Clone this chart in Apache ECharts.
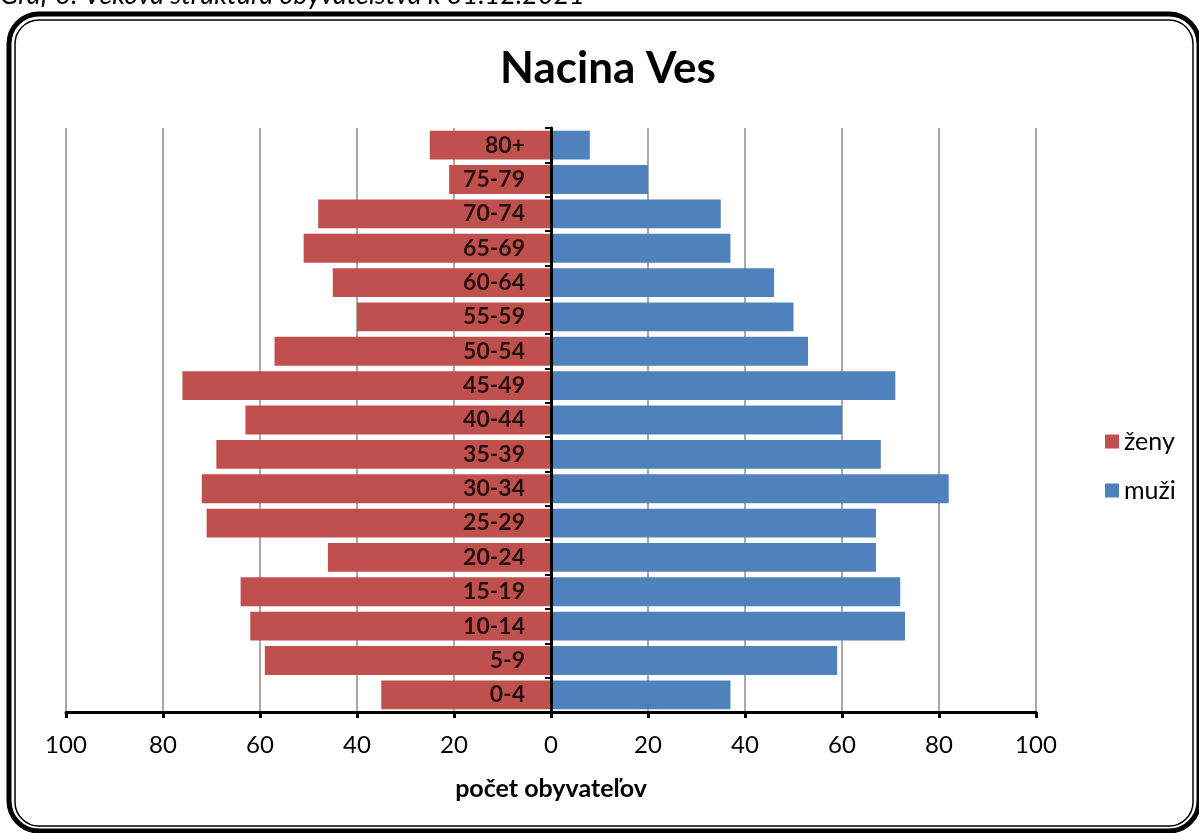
<!DOCTYPE html>
<html><head><meta charset="utf-8">
<script src="https://cdn.jsdelivr.net/npm/echarts@6/dist/echarts.min.js"></script>
<style>html,body{margin:0;padding:0;background:#fff}#c{width:1199px;height:833px}</style>
</head><body><div id="c"></div>
<script>
const categories = ['0-4','5-9','10-14','15-19','20-24','25-29','30-34','35-39','40-44','45-49','50-54','55-59','60-64','65-69','70-74','75-79','80+'];
const zeny = [35,59,62,64,46,71,72,69,63,76,57,40,45,51,48,21,25];
const muzi = [37,59,73,72,67,67,82,68,60,71,53,50,46,37,35,20,8];
const xTicks = [-100,-80,-60,-40,-20,0,20,40,60,80,100];
const FONT = 'Lato, "Open Sans", sans-serif';

const chart = echarts.init(document.getElementById('c'));
chart.setOption({
  animation:false,
  backgroundColor:'#fff',
  textStyle:{fontFamily:FONT},
  title:{text:'Nacina Ves',left:603,top:42,textAlign:'center',
    textStyle:{fontSize:44,fontWeight:'bold',color:'#000',fontFamily:FONT}},
  legend:{orient:'vertical',left:1100,top:424,itemWidth:14,itemHeight:14,itemGap:24,icon:'rect',
    textStyle:{fontSize:25,color:'#000',fontFamily:FONT},data:['ženy','muži']},
  grid:{left:66,right:163,top:128,bottom:121,outerBoundsMode:'none'},
  xAxis:{type:'value',min:xTicks[0],max:xTicks[xTicks.length-1],interval:20,
    name:'počet obyvateľov',nameLocation:'middle',nameGap:64,
    nameTextStyle:{fontSize:25,fontWeight:'bold',color:'#000',fontFamily:FONT},
    axisLine:{show:true,lineStyle:{color:'#000',width:3}},
    axisTick:{show:true,length:6,lineStyle:{color:'#000',width:3}},
    axisLabel:{fontSize:24,color:'#000',margin:21,fontFamily:FONT,formatter:v=>Math.abs(v)},
    splitLine:{show:true,lineStyle:{color:'#8c8c8c',width:1.5}}},
  yAxis:{type:'category',data:categories,
    axisLine:{show:true,onZero:true,lineStyle:{color:'#000',width:3}},
    axisTick:{show:true,length:6,inside:false,lineStyle:{color:'#000',width:2}},
    axisLabel:{show:false},
    z:10},
  series:[
    {name:'ženy',type:'bar',stack:'s',data:zeny.map(v=>-v),itemStyle:{color:'#C0504D'},barCategoryGap:'16%'},
    {name:'muži',type:'bar',stack:'s',data:muzi,itemStyle:{color:'#4F81BD'},barCategoryGap:'16%'},
    {name:'labels',type:'scatter',symbolSize:0,silent:true,z:20,
      data:categories.map(c=>[0,c]),
      label:{show:true,position:'left',distance:26,formatter:p=>p.data[1],
        fontSize:23,fontWeight:'bold',color:'#000',fontFamily:FONT}}
  ],
  graphic:[
    {type:'text',left:0,top:-18,z:100,style:{text:'Graf 3: Veková štruktúra obyvateľstva k 31.12.2021',
      fontSize:27,fontStyle:'italic',fill:'#000',fontFamily:FONT}},
    {type:'rect',shape:{x:9,y:14,width:1190,height:817,r:30},z:-1,
      style:{fill:'none',stroke:'#000',lineWidth:5}},
    {type:'rect',shape:{x:15,y:20,width:1178,height:806,r:24},z:-1,
      style:{fill:'none',stroke:'#000',lineWidth:1.5}}
  ]
});
</script></body></html>
